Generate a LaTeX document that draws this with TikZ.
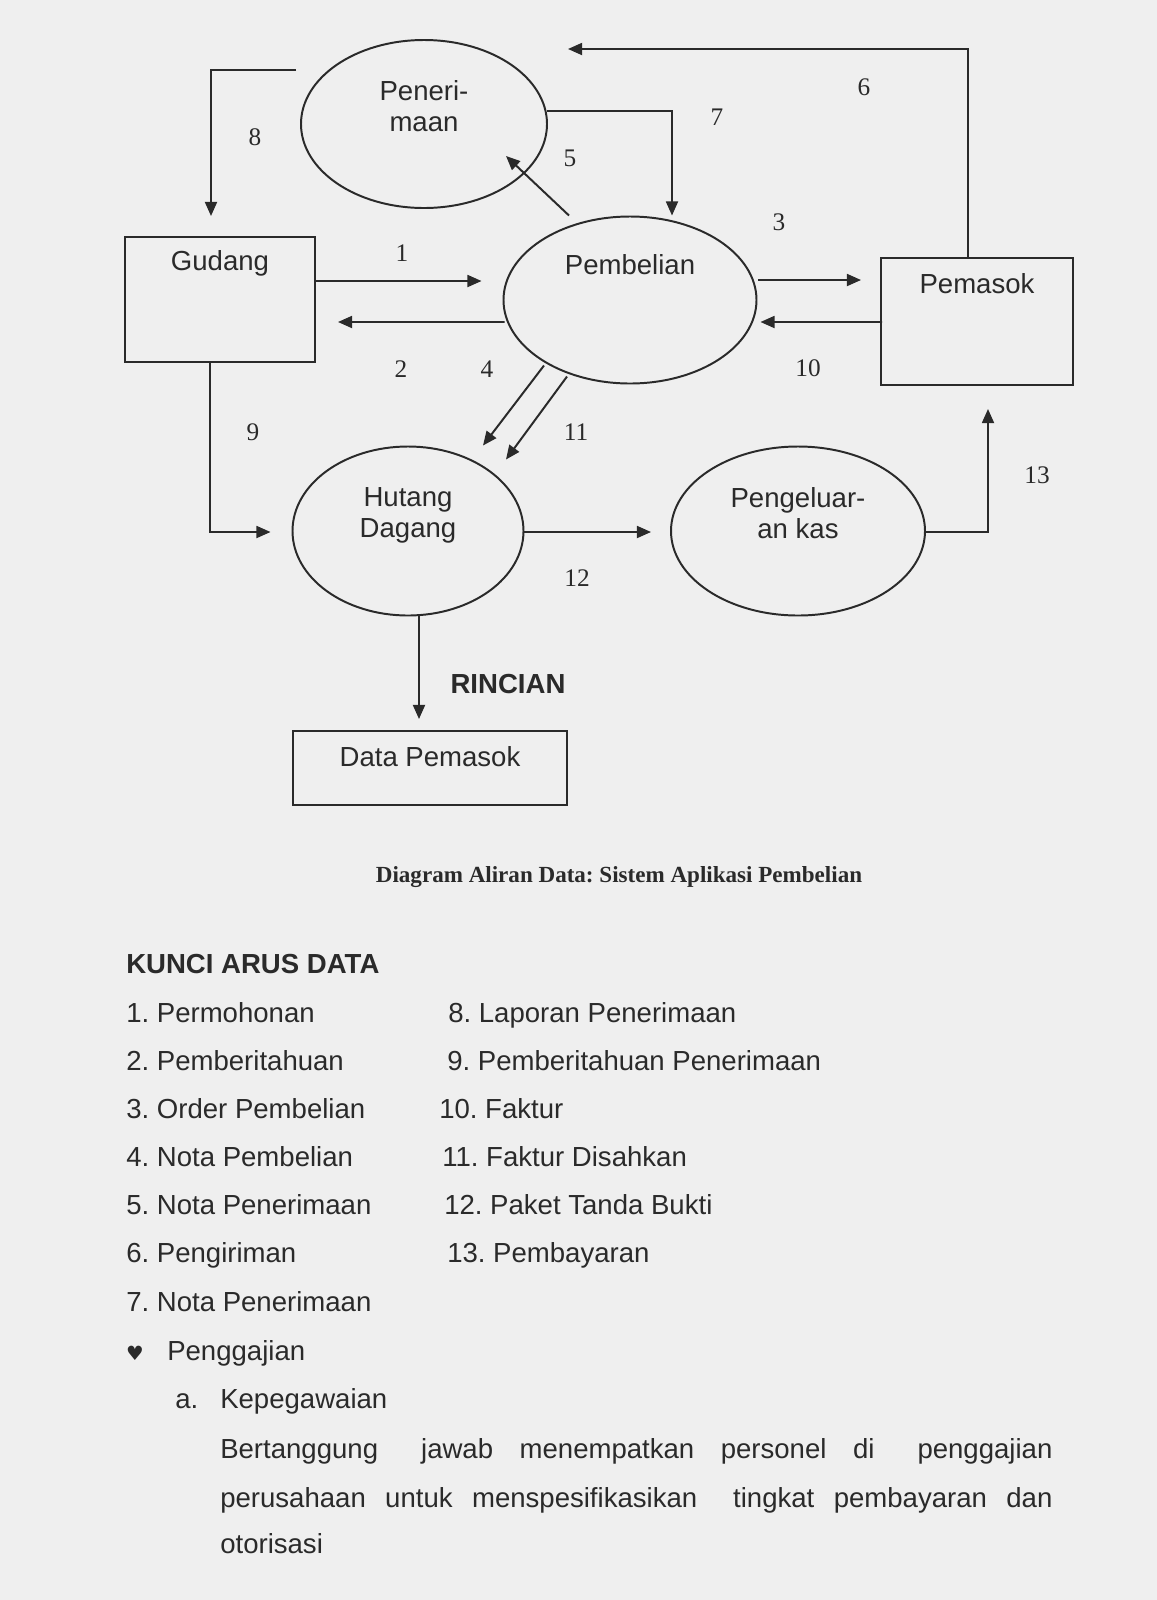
\documentclass[tikz,border=0pt]{standalone}
\usepackage{fontspec}
\setmainfont{Liberation Sans}
\newfontfamily\numfont{Liberation Serif}
\newfontfamily\heartfont{DejaVu Sans}
\usetikzlibrary{arrows.meta, shapes.geometric, calc}
\frenchspacing

\definecolor{paper}{RGB}{239,239,239}
\definecolor{ink}{RGB}{42,42,42}
\newcommand{\pxu}{0.025cm}

\begin{document}
\begin{tikzpicture}[
    x=\pxu, y=-\pxu,
    % Styles
    proc/.style={ellipse, draw=ink, line width=1.4pt, inner sep=0pt},
    store/.style={rectangle, draw=ink, line width=1.4pt, inner sep=0pt},
    flow/.style={-{Triangle[length=10pt, width=8.5pt]}, line width=1.4pt, draw=ink},
    nodetext/.style={font=\fontsize{19.6}{22}\selectfont, text=ink, align=center, inner sep=0pt},
    flownum/.style={font=\numfont\fontsize{18}{20}\selectfont, text=ink, inner sep=0pt},
    keyitem/.style={anchor=base west, font=\fontsize{19.6}{22}\selectfont, text=ink, inner sep=0pt},
]
    % Page
    \fill[paper] (0,0) rectangle (1157,1600);
    \useasboundingbox (0,0) rectangle (1157,1600);

    % Processes and stores
    \node[proc, minimum width=246*\pxu, minimum height=168*\pxu] (penerimaan) at (424,124) {};
    \node[nodetext] (penerimaan-txt) at ($(penerimaan.center)+(0,-18)$) {Peneri-\\maan};

    \node[proc, minimum width=253*\pxu, minimum height=167*\pxu] (pembelian) at (630,300) {};
    \node[nodetext, anchor=base] (pembelian-txt) at ($(pembelian.center)+(0,-26)$) {Pembelian};

    \node[store, minimum width=190*\pxu, minimum height=125*\pxu] (gudang) at (220,299.5) {};
    \node[nodetext, anchor=base] (gudang-txt) at ($(gudang.north)+(0,34)$) {Gudang};

    \node[store, minimum width=192*\pxu, minimum height=127*\pxu] (pemasok) at (977,321.5) {};
    \node[nodetext, anchor=base] (pemasok-txt) at ($(pemasok.north)+(0,36)$) {Pemasok};

    \node[proc, minimum width=231*\pxu, minimum height=169*\pxu] (hutang) at (408,531) {};
    \node[nodetext] (hutang-txt) at ($(hutang.center)+(0,-16)$) {Hutang\\Dagang};

    \node[proc, minimum width=254*\pxu, minimum height=169*\pxu] (pengeluaran) at (798,531) {};
    \node[nodetext] (pengeluaran-txt) at ($(pengeluaran.center)+(0,-18)$) {Pengeluar-\\an kas};

    \node[store, minimum width=274*\pxu, minimum height=74*\pxu] (datapemasok) at (430,768) {};
    \node[nodetext, anchor=base] (datapemasok-txt) at ($(datapemasok.north)+(0,36)$) {Data Pemasok};

    % Free ends of flows
    \coordinate (start8) at (296,70);
    \coordinate (end6) at (568,49);

    % Data flows
    \draw[flow] ($(gudang.east)+(0,-18.5)$) -- ($(pembelian.west)+(-21,-19)$);
    \draw[flow] ($(pembelian.west)+(2,22)$) -- ($(gudang.east)+(22,22.5)$);
    \draw[flow] ($(pembelian.east)+(1,-20)$) -- ($(pemasok.west)+(-19,-41.5)$);
    \draw[flow] ($(pembelian.north)+(-86,150)$) -- ($(hutang.north)+(75,0)$);
    \draw[flow] ($(pembelian.north)+(-61,0)$) -- ($(penerimaan.center)+(82,32)$);
    \draw[flow] ($(pemasok.north)+(-9,0)$) |- (end6);
    \draw[flow] ($(penerimaan.east)+(-1,-13)$) -| ($(pembelian.north)+(42,0)$);
    \draw[flow] (start8) -| ($(gudang.north)+(-9,-20)$);
    \draw[flow] ($(gudang.south)+(-10,0)$) |- ($(hutang.west)+(-21,1)$);
    \draw[flow] ($(pemasok.west)+(2,0.5)$) -- ($(pembelian.east)+(3,22)$);
    \draw[flow] ($(pembelian.north)+(-63,161)$) -- ($(hutang.north)+(98,14)$);
    \draw[flow] ($(hutang.east)+(0,1)$) -- ($(pengeluaran.west)+(-19,1)$);
    \draw[flow] ($(pengeluaran.east)+(0,1)$) -| ($(pemasok.south)+(11,23)$);
    \draw[flow] ($(hutang.south)+(11,0)$) -- ($(datapemasok.north)+(-11,-11)$);

    % Flow numbers
    \node[flownum] (n1) at (402,253) {1};
    \node[flownum] (n2) at (401,369) {2};
    \node[flownum] (n3) at (779,222) {3};
    \node[flownum] (n4) at (487,369) {4};
    \node[flownum] (n5) at (570,158) {5};
    \node[flownum] (n6) at (864,87) {6};
    \node[flownum] (n7) at (717,117) {7};
    \node[flownum] (n8) at (255,137) {8};
    \node[flownum] (n9) at (253,432) {9};
    \node[flownum] (n10) at (808,368) {10};
    \node[flownum] (n11) at (576,432) {11};
    \node[flownum] (n12) at (577,578) {12};
    \node[flownum] (n13) at (1037,475) {13};

    \node[nodetext, font=\bfseries\fontsize{19.6}{22}\selectfont, anchor=base] (rincian) at (508,693) {RINCIAN};

    % Caption
    \node[anchor=base, inner sep=0pt, text=ink, font=\numfont\bfseries\fontsize{16.4}{18}\selectfont] (caption) at (619,882) {Diagram Aliran Data: Sistem Aplikasi Pembelian};

    % Key to data flows
    \node[keyitem, font=\bfseries\fontsize{19.6}{22}\selectfont] (keytitle) at (126,973) {KUNCI ARUS DATA};
    \node[keyitem] (key1) at (126,1022) {1. Permohonan};
    \node[keyitem] (key2) at (126,1070) {2. Pemberitahuan};
    \node[keyitem] (key3) at (126,1118) {3. Order Pembelian};
    \node[keyitem] (key4) at (126,1166) {4. Nota Pembelian};
    \node[keyitem] (key5) at (126,1214) {5. Nota Penerimaan};
    \node[keyitem] (key6) at (126,1262) {6. Pengiriman};
    \node[keyitem] (key7) at (126,1311) {7. Nota Penerimaan};
    \node[keyitem] (key8) at (448,1022) {8. Laporan Penerimaan};
    \node[keyitem] (key9) at (447,1070) {9. Pemberitahuan Penerimaan};
    \node[keyitem] (key10) at (439,1118) {10. Faktur};
    \node[keyitem] (key11) at (442,1166) {11. Faktur Disahkan};
    \node[keyitem] (key12) at (444,1214) {12. Paket Tanda Bukti};
    \node[keyitem] (key13) at (447,1262) {13. Pembayaran};

    % Payroll note
    \node[inner sep=0pt, text=ink, font=\heartfont\fontsize{14}{16}\selectfont] (heart) at (135,1353) {♥};
    \node[keyitem] (payroll) at (167,1360) {Penggajian};
    \node[keyitem] (itema) at (175,1408) {a.};
    \node[keyitem] (staffing) at (220,1408) {Kepegawaian};
    \node[keyitem] (para1) at (220,1458) {\makebox[20.8cm][s]{Bertanggung\hspace{0.6em} jawab menempatkan personel di\hspace{0.6em} penggajian}};
    \node[keyitem] (para2) at (220,1507) {\makebox[20.8cm][s]{perusahaan untuk menspesifikasikan\hspace{0.6em} tingkat pembayaran dan}};
    \node[keyitem] (para3) at (220,1553) {otorisasi};

\end{tikzpicture}
\end{document}
